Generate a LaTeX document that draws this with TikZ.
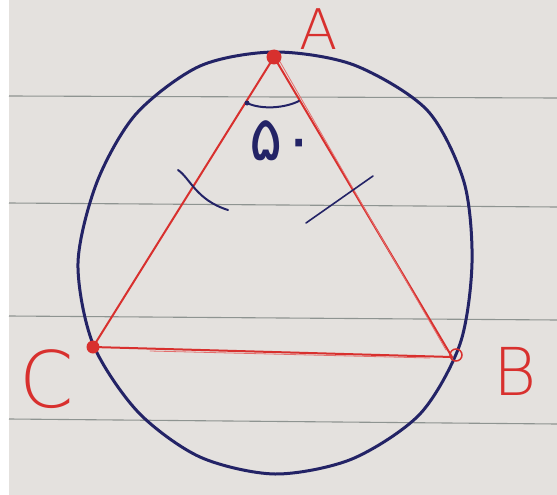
\documentclass[tikz,border=0pt]{standalone}
\usepackage{fontspec}
\newfontfamily\arabicfont[Script=Arabic]{DejaVu Sans}
\newfontfamily\handfont{DejaVu Sans ExtraLight}
\definecolor{paper}{HTML}{E4E1DE}
\definecolor{rulec}{HTML}{8E9491}
\definecolor{inkred}{HTML}{D8302E}
\definecolor{navy}{HTML}{232366}
\begin{document}
\begin{tikzpicture}[x=1pt,y=-1pt,
  ruleline/.style={draw=rulec,line width=1.1pt},
  circ/.style={draw=navy,line width=3pt,line join=round},
  side/.style={draw=inkred,line width=2pt,line cap=round},
  faint/.style={draw=inkred!70,line width=0.8pt,line cap=round},
  pen/.style={draw=navy,line width=2pt,line cap=round},
  reddot/.style={circle,fill=inkred,inner sep=0pt,minimum size=15pt},
  opendot/.style={circle,draw=inkred,line width=1.5pt,inner sep=0pt,minimum size=12pt},
  lab/.style={text=inkred,inner sep=0pt,font=\handfont\fontsize{56}{60}\selectfont}
]
\useasboundingbox (0,0) rectangle (557,495);
\fill[white] (0,0) rectangle (557,495);
\fill[paper] (9,0) rectangle (557,495);
% ruled lines
\draw[ruleline] (9,96) -- (557,98);
\draw[ruleline] (9,203) -- (557,207);
\draw[ruleline] (9,316) -- (557,320);
\draw[ruleline] (9,419) -- (557,424);
% circle
\draw[circ] plot[smooth cycle] coordinates {
 (472,263) (464,182) (427,110) (354,65) (275,52) (200,66) (136,114) (97,182)
 (78,263) (93,344) (138,412) (200,457) (275,474) (352,459) (420,414) (460,344)};
% vertices
\coordinate (pA) at (274,57);
\coordinate (pB) at (452,357);
\coordinate (pC) at (93,347);
\draw[side] (pA) -- (pC) -- (pB) -- cycle;
\draw[faint] (279,60) -- (446,350);
\draw[faint] (150,351) -- (430,358);
\node[reddot] (A) at (pA) {};
\node[reddot,minimum size=13pt] (C) at (pC) {};
\node[opendot] (B) at (456,355) {};
% angle mark
\coordinate (arc1) at (247,103);
\coordinate (arc2) at (299,101);
\draw[pen] (arc1) .. controls (262,110) and (285,108) .. (arc2);
\fill[navy] (arc1) circle (2.5pt);
% equal side ticks
\coordinate (tl1) at (178,170);
\coordinate (tl2) at (228,210);
\draw[pen] (tl1) .. controls (190,178) and (196,200) .. (tl2);
\coordinate (tr1) at (373,176);
\coordinate (tr2) at (306,223);
\draw[pen,line width=1.6pt] (tr1) -- (tr2);
% angle value
\node[text=navy,inner sep=0pt,font=\arabicfont\fontsize{62}{64}\selectfont] (ang) at (283,141) {۵۰};
% labels
\node[lab] (labA) at (319,29) {A};
\node[lab,font=\handfont\fontsize{66}{70}\selectfont] (labB) at (515,371) {B};
\node[lab,font=\handfont\fontsize{78}{80}\selectfont] (labC) at (47,379) {C};
\end{tikzpicture}
\end{document}
